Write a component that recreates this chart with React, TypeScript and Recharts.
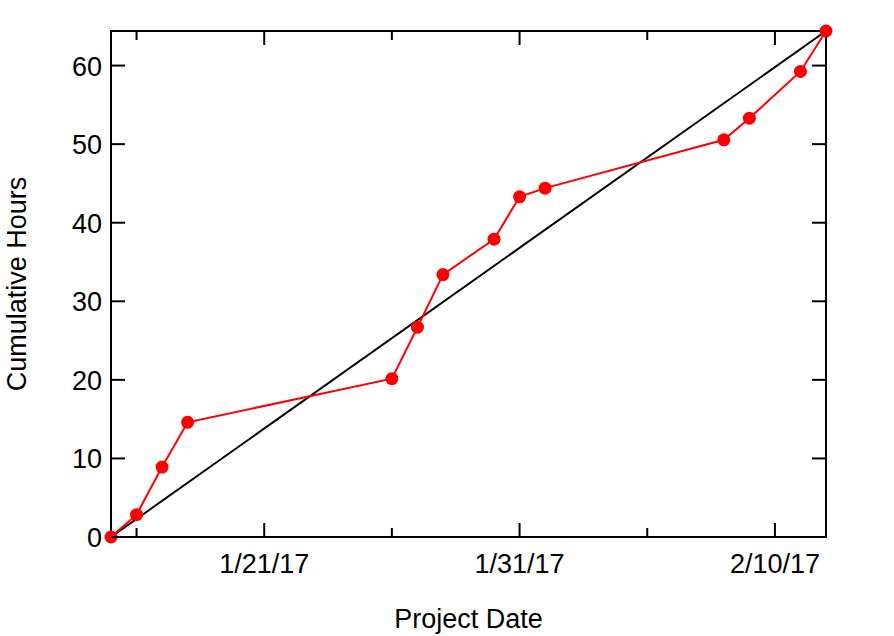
import { LineChart, Line, XAxis, YAxis, Label } from "recharts";

const DATES = [
  "1/15/17", "1/16/17", "1/17/17", "1/18/17", "1/26/17", "1/27/17", "1/28/17",
  "1/30/17", "1/31/17", "2/1/17", "2/8/17", "2/9/17", "2/11/17", "2/12/17",
];
const HOURS = [0, 2.84, 8.9, 14.6, 20.15, 26.7, 33.4, 37.9, 43.3, 44.4, 50.55, 53.3, 59.25, 64.4];

const MAJOR_TICKS = ["1/21/17", "1/31/17", "2/10/17"];
const MINOR_TICKS = ["1/16/17", "1/26/17", "2/5/17"];
const Y_TICKS = [0, 10, 20, 30, 40, 50, 60];
const X_RANGE = ["1/15/17", "2/12/17"];
const Y_MAX = 64.4;

const FONT = "'Liberation Sans', Arial, Helvetica, sans-serif";

const toTime = (s: string) => {
  const [m, d, y] = s.split("/").map(Number);
  return Date.UTC(2000 + y, m - 1, d);
};

const points = DATES.map((d, i) => ({ t: toTime(d), v: HOURS[i] }));
// straight reference line from the first to the last point
const trend = [points[0], points[points.length - 1]];

const majorTimes = MAJOR_TICKS.map(toTime);
const xTicks = [...MAJOR_TICKS, ...MINOR_TICKS].map(toTime).sort((a, b) => a - b);
const xDomain = X_RANGE.map(toTime);

const labelFor = (t: number) => MAJOR_TICKS[majorTimes.indexOf(t)];

const axisLine = { stroke: "#000", strokeWidth: 2, strokeLinecap: "square" as const };

function BottomTick({ x, y, payload }: any) {
  const major = majorTimes.includes(payload.value);
  return (
    <g>
      <line x1={x} y1={y} x2={x} y2={y - (major ? 14 : 9)} stroke="#000" strokeWidth={2} />
      {major && (
        <text x={x} y={y + 36} textAnchor="middle" fontSize={27} fontFamily={FONT} fill="#000">
          {labelFor(payload.value)}
        </text>
      )}
    </g>
  );
}

function TopTick({ x, y, payload }: any) {
  const major = majorTimes.includes(payload.value);
  return (
    <g>
      <line x1={x} y1={y} x2={x} y2={y + (major ? 14 : 9)} stroke="#000" strokeWidth={2} />
    </g>
  );
}

function LeftTick({ x, y, payload }: any) {
  return (
    <g>
      <line x1={x} y1={y} x2={x + 14} y2={y} stroke="#000" strokeWidth={2} />
      <text x={x - 9} y={y + 10} textAnchor="end" fontSize={27} fontFamily={FONT} fill="#000">
        {payload.value}
      </text>
    </g>
  );
}

function RightTick({ x, y }: any) {
  return (
    <g>
      <line x1={x} y1={y} x2={x - 14} y2={y} stroke="#000" strokeWidth={2} />
    </g>
  );
}

export default function App() {
  return (
    <div>
      <style>{"body { margin: 0; }"}</style>
      <LineChart width={894} height={636} margin={{ top: 30, right: 67, bottom: 9, left: 11 }}>
        <XAxis
          dataKey="t"
          type="number"
          domain={xDomain}
          ticks={xTicks}
          interval={0}
          height={90}
          tickSize={0}
          tickMargin={0}
          tickLine={false}
          axisLine={axisLine}
          tick={<BottomTick />}
        >
          <Label
            content={({ viewBox }: any) => (
              <text
                x={viewBox.x + viewBox.width / 2}
                y={viewBox.y + 91}
                textAnchor="middle"
                fontSize={27}
                fontFamily={FONT}
                fill="#000"
              >
                Project Date
              </text>
            )}
          />
        </XAxis>
        <XAxis
          xAxisId="top"
          orientation="top"
          dataKey="t"
          type="number"
          domain={xDomain}
          ticks={xTicks}
          interval={0}
          height={1}
          tickSize={0}
          tickMargin={0}
          tickLine={false}
          axisLine={axisLine}
          tick={<TopTick />}
        />
        <YAxis
          type="number"
          domain={[0, Y_MAX]}
          ticks={Y_TICKS}
          interval={0}
          width={100}
          tickSize={0}
          tickMargin={0}
          tickLine={false}
          axisLine={axisLine}
          tick={<LeftTick />}
        >
          <Label
            content={({ viewBox }: any) => {
              const cx = viewBox.x + 15;
              const cy = viewBox.y + viewBox.height / 2;
              return (
                <text
                  x={cx}
                  y={cy}
                  transform={`rotate(-90 ${cx} ${cy})`}
                  textAnchor="middle"
                  fontSize={27}
                  fontFamily={FONT}
                  fill="#000"
                >
                  Cumulative Hours
                </text>
              );
            }}
          />
        </YAxis>
        <YAxis
          yAxisId="right"
          orientation="right"
          type="number"
          domain={[0, Y_MAX]}
          ticks={Y_TICKS}
          interval={0}
          width={1}
          tickSize={0}
          tickMargin={0}
          tickLine={false}
          axisLine={axisLine}
          tick={<RightTick />}
        />
        <Line
          data={trend}
          xAxisId="top"
          yAxisId="right"
          dataKey="v"
          type="linear"
          stroke="#000"
          strokeWidth={2}
          dot={false}
          activeDot={false}
          isAnimationActive={false}
        />
        <Line
          data={points}
          dataKey="v"
          type="linear"
          stroke="#ff0000"
          strokeWidth={2}
          dot={{ r: 6.5, fill: "#ff0000", stroke: "#ff0000", strokeWidth: 0 }}
          activeDot={false}
          isAnimationActive={false}
        />
      </LineChart>
    </div>
  );
}
